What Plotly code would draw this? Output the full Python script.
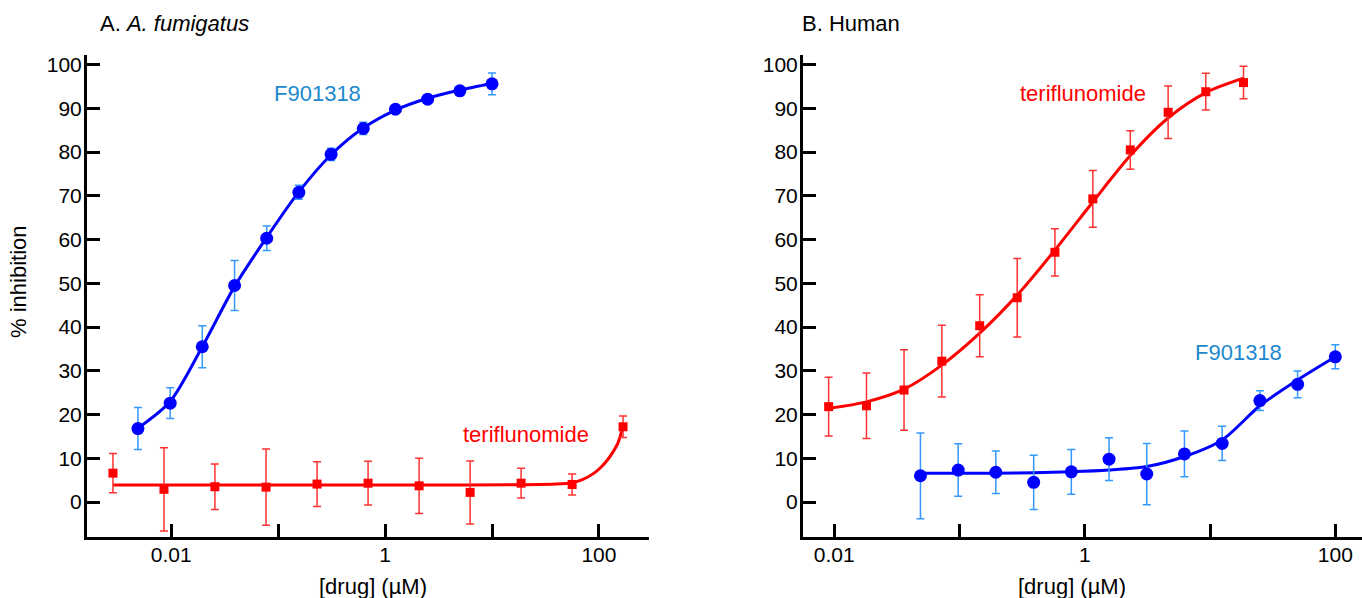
import plotly.graph_objects as go

# ---------------- data ----------------
# Panel A: A. fumigatus
a_f_conc = [0.00488, 0.00977, 0.0195, 0.0391, 0.0781, 0.156, 0.3125, 0.625, 1.25, 2.5, 5, 10]
a_f_inh = [16.8, 22.6, 35.5, 49.5, 60.3, 70.8, 79.5, 85.4, 89.8, 92.1, 94.0, 95.6]
a_f_err = [4.8, 3.5, 4.8, 5.7, 2.8, 1.6, 1.4, 1.4, 0.5, 0.5, 0.6, 2.5]
a_f_fit = [16.9, 23.0, 35.5, 49.3, 60.5, 70.9, 79.4, 85.5, 89.6, 92.3, 94.2, 95.7]

a_t_conc = [0.00285, 0.00855, 0.0256, 0.077, 0.231, 0.693, 2.08, 6.24, 18.7, 56.1, 168]
a_t_inh = [6.6, 2.9, 3.5, 3.4, 4.1, 4.3, 3.7, 2.2, 4.3, 4.0, 17.2]
a_t_err = [4.5, 9.5, 5.2, 8.7, 5.1, 5.0, 6.3, 7.2, 3.4, 2.4, 2.45]
a_t_fit_conc = [0.00285, 0.0256, 0.231, 2.08, 18.7, 40, 56.1, 70, 90, 105, 120, 135, 150, 168]
a_t_fit = [3.9, 3.9, 3.9, 3.9, 3.95, 4.1, 4.4, 5.1, 6.6, 8.0, 9.6, 11.4, 13.4, 17.2]

# Panel B: Human
b_t_conc = [0.00903, 0.0181, 0.0361, 0.0723, 0.145, 0.289, 0.578, 1.16, 2.31, 4.63, 9.25, 18.5]
b_t_inh = [21.8, 22.0, 25.6, 32.2, 40.3, 46.7, 57.1, 69.3, 80.5, 89.1, 93.8, 95.9]
b_t_err = [6.7, 7.5, 9.2, 8.2, 7.1, 9.0, 5.4, 6.5, 4.4, 6.0, 4.2, 3.7]
b_t_fit = [21.4, 22.9, 25.8, 31.3, 38.6, 47.3, 57.6, 68.6, 79.2, 87.8, 93.6, 96.9]

b_f_conc = [0.0488, 0.0977, 0.195, 0.391, 0.781, 1.5625, 3.125, 6.25, 12.5, 25, 50, 100]
b_f_inh = [6.0, 7.3, 6.8, 4.5, 6.9, 9.8, 6.4, 11.0, 13.4, 23.2, 26.9, 33.2]
b_f_err = [9.8, 6.0, 4.85, 6.2, 5.1, 4.9, 7.0, 5.25, 3.9, 2.25, 3.05, 2.75]
b_f_fit = [6.55, 6.6, 6.6, 6.7, 6.9, 7.3, 8.1, 10.4, 14.2, 22.0, 27.9, 33.2]

x_tickvals = [0.01, 0.1, 1, 10, 100]
x_ticktext = ["0.01", "", "1", "", "100"]
y_tickvals = [0, 10, 20, 30, 40, 50, 60, 70, 80, 90, 100]

# ---------------- styles ----------------
BLUE = "#0000ff"
BLUE_ERR = "rgb(51,153,255)"
BLUE_LABEL = "rgb(34,136,204)"
RED = "#ff0000"
RED_ERR = "rgb(255,50,50)"
FONT = "Liberation Sans, Arial, Helvetica, sans-serif"

fig = go.Figure()


def add_series(xs, ys, errs, fit_x, fit_y, color, err_color, symbol, size, xa, ya):
    fig.add_trace(go.Scatter(
        x=fit_x, y=fit_y, mode="lines",
        line=dict(color=color, width=3, shape="spline", smoothing=0.8),
        xaxis=xa, yaxis=ya, hoverinfo="skip", showlegend=False))
    fig.add_trace(go.Scatter(
        x=xs, y=ys, mode="markers",
        marker=dict(color=color, symbol=symbol, size=size, line=dict(width=0)),
        error_y=dict(type="data", array=errs, visible=True, color=err_color,
                     thickness=1.5, width=4),
        xaxis=xa, yaxis=ya, showlegend=False))


add_series(a_t_conc, a_t_inh, a_t_err, a_t_fit_conc, a_t_fit, RED, RED_ERR, "square", 9, "x", "y")
add_series(a_f_conc, a_f_inh, a_f_err, a_f_conc, a_f_fit, BLUE, BLUE_ERR, "circle", 13, "x", "y")
add_series(b_t_conc, b_t_inh, b_t_err, b_t_conc, b_t_fit, RED, RED_ERR, "square", 9, "x2", "y2")
add_series(b_f_conc, b_f_inh, b_f_err, b_f_conc, b_f_fit, BLUE, BLUE_ERR, "circle", 13, "x2", "y2")

axis_common = dict(showline=True, linecolor="black", linewidth=3, ticks="inside",
                   ticklen=13, tickwidth=3, tickcolor="black", showgrid=False,
                   zeroline=False, automargin=False,
                   tickfont=dict(family=FONT, size=21, color="black"))

fig.update_layout(
    width=1362, height=598,
    margin=dict(l=0, r=0, t=0, b=0, autoexpand=False),
    paper_bgcolor="white", plot_bgcolor="white",
    font=dict(family=FONT, size=22, color="black"),
    xaxis=dict(type="log", domain=[87 / 1362, 649 / 1362], range=[-2.788, 2.468],
               tickvals=x_tickvals, ticktext=x_ticktext, anchor="y",
               ticklabelstandoff=-3, **axis_common),
    yaxis=dict(domain=[61 / 598, 543 / 598], range=[-8.0, 102.2],
               tickvals=y_tickvals, anchor="x", ticklabelstandoff=-2, **axis_common),
    xaxis2=dict(type="log", domain=[803 / 1362, 1.0], range=[-2.249, 2.213],
                tickvals=x_tickvals, ticktext=x_ticktext, anchor="y2",
                ticklabelstandoff=-3, **axis_common),
    yaxis2=dict(domain=[61 / 598, 543 / 598], range=[-8.0, 102.2],
                tickvals=y_tickvals, anchor="x2", ticklabelstandoff=-2, **axis_common),
)

ann = []
# panel titles
ann.append(dict(text="A. <i>A. fumigatus</i>", x=98 / 1362, y=1 - 24 / 598, xref="paper", yref="paper",
                xanchor="left", yanchor="middle", showarrow=False, font=dict(size=22)))
ann.append(dict(text="B. Human", x=800 / 1362, y=1 - 24 / 598, xref="paper", yref="paper",
                xanchor="left", yanchor="middle", showarrow=False, font=dict(size=22)))
# axis titles
ann.append(dict(text="% inhibition", x=18 / 1362, y=1 - 282 / 598, xref="paper", yref="paper",
                xanchor="center", yanchor="middle", textangle=-90, showarrow=False, font=dict(size=22)))
ann.append(dict(text="[drug] (µM)", x=373 / 1362, y=1 - 586 / 598, xref="paper", yref="paper",
                xanchor="center", yanchor="middle", showarrow=False, font=dict(size=22)))
ann.append(dict(text="[drug] (µM)", x=1072 / 1362, y=1 - 586 / 598, xref="paper", yref="paper",
                xanchor="center", yanchor="middle", showarrow=False, font=dict(size=22)))
# series labels
ann.append(dict(text="F901318", x=-0.629, y=93.5, xref="x", yref="y", showarrow=False,
                font=dict(size=22, color=BLUE_LABEL)))
ann.append(dict(text="teriflunomide", x=1.314, y=15.5, xref="x", yref="y", showarrow=False,
                font=dict(size=22, color=RED)))
ann.append(dict(text="teriflunomide", x=-0.013, y=93.3, xref="x2", yref="y2", showarrow=False,
                font=dict(size=22, color=RED)))
ann.append(dict(text="F901318", x=1.227, y=34.1, xref="x2", yref="y2", showarrow=False,
                font=dict(size=22, color=BLUE_LABEL)))
fig.update_layout(annotations=ann)

fig.write_html(
    "out.html",
    config={"displayModeBar": False},
    post_script="document.body.style.margin='0';document.body.style.overflow='hidden';",
)
